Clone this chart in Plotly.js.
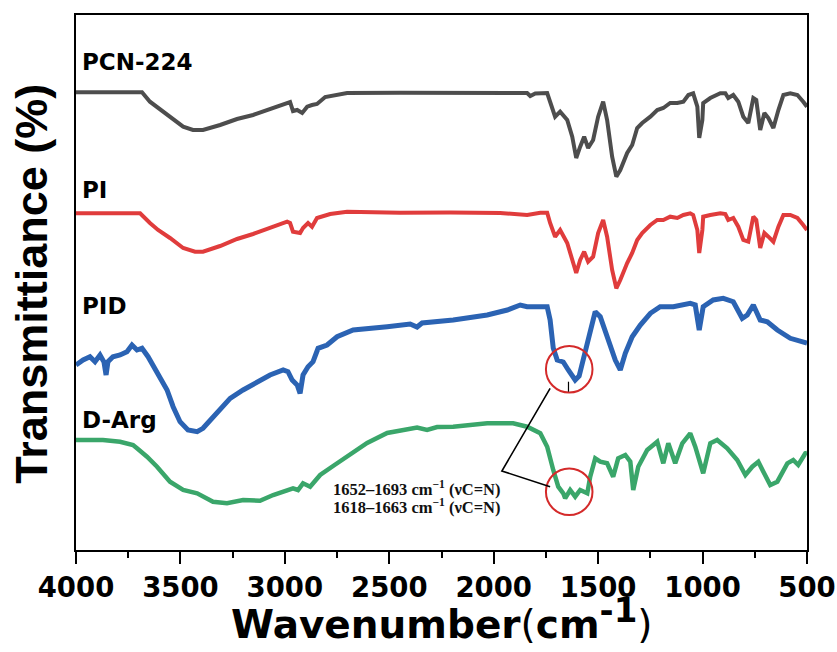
<!DOCTYPE html>
<html>
<head>
<meta charset="utf-8">
<script src="https://cdn.plot.ly/plotly-3.0.1.min.js"></script>
<style>
  html, body { margin: 0; padding: 0; background: #ffffff; }
  #chart { width: 837px; height: 652px; }
</style>
</head>
<body>
<div id="chart"></div>
<script>
// FTIR spectra, transmittance in arbitrary units (curves stacked with offsets)

const pcnWn = [4000,3684,3646,3607,3550,3487,3440,3392,3310,3229,3152,3071,2989,2975,2961,2941,2917,2893,2870,2846,2807,2759,2702,2448,2209,1969,1840,1825,1801,1744,1730,1706,1682,1648,1624,1605,1586,1567,1548,1524,1500,1476,1457,1433,1413,1394,1361,1337,1313,1289,1250,1217,1188,1155,1121,1092,1068,1045,1025,1016,1001,997,963,915,891,877,853,829,805,781,757,743,724,704,685,661,637,613,580,546,518,500];
const pcnT  = [457.7,457.7,448.3,442,433.3,423.3,420,420,425,431,435,441,448,448,439,440,437,443.3,445,446,453,455,457,457.3,457.5,457.5,457,454,456.5,457,447,433.3,438.3,430,413.3,392,403.3,413.3,402,410,433.3,448.3,430,393.3,373.3,380,397,405,422,427,433.3,440,442,447,447,448.3,455,456.7,443.3,412,430,447,452,456.7,456.7,452,455,448.3,433.3,427,452,450,420,437,432,422,440,455,456.7,455,448.3,443.3];

const piWn = [4000,3693,3646,3607,3550,3487,3430,3392,3310,3229,3152,3071,2989,2975,2961,2927,2913,2889,2870,2846,2783,2702,2448,2209,1969,1840,1777,1744,1730,1706,1682,1648,1624,1605,1586,1567,1548,1524,1500,1476,1457,1433,1413,1394,1361,1337,1313,1289,1250,1217,1188,1155,1121,1092,1059,1045,1025,1016,1001,997,963,915,891,877,853,829,805,781,757,743,724,704,685,661,637,613,580,546,518,500];
const piT  = [336.7,336.7,327,320,312,302,298.3,298.3,304,311,316,322,328.3,327,318.3,317,322,327,323.3,332,336,338.3,337.3,337.5,337,335,337.3,337.3,327,313.3,320,307,290,277,290,298.3,288.3,293.3,317,330,313.3,280,261.7,270,287,297,310,317,325,330,330,333.3,332,335,336.7,335,320,297,320,333.3,335,336.7,336,330,332,323.3,310,308.3,333.3,330,302,317,313.3,308.3,323.3,335,335,332,325,320];

const pidWn = [4000,3966,3933,3909,3885,3866,3856,3847,3823,3789,3756,3732,3708,3684,3655,3631,3598,3564,3535,3502,3464,3420,3392,3358,3310,3262,3200,3133,3071,3008,2985,2965,2941,2927,2913,2889,2865,2841,2798,2750,2673,2510,2400,2367,2343,2194,2031,1935,1873,1840,1744,1730,1715,1696,1667,1643,1610,1591,1572,1552,1538,1514,1490,1457,1418,1394,1370,1337,1298,1250,1203,1140,1059,1035,1016,997,949,901,853,810,786,757,724,690,642,580,508,500];
const pidT  = [185,190,193.3,188.3,195,188,175,188.3,193.3,195,198.3,205,200,201.7,193.3,185,173.3,160,143.3,128.3,120,118.3,121.7,130,141.7,151.7,160,168.3,175,180,178.3,170,165,156.7,175,183.3,188.3,201.7,205,213.3,220,223.3,226,223,227,230,235,240,245,243.3,243.3,230,202,190,188,180,170,174,190,210,216.7,238.3,233.3,213.3,190,180,196.7,213.3,225,236.7,243.3,243.3,246.7,245,220,243.3,250,251.7,248.3,231.7,235,245,230,228.3,220,211.7,206.7,207];

const dargWn = [4000,3871,3789,3727,3708,3660,3612,3550,3487,3420,3344,3277,3200,3119,3056,2989,2961,2937,2913,2879,2841,2831,2769,2688,2606,2510,2367,2319,2271,2194,2031,1907,1840,1777,1744,1715,1691,1667,1658,1634,1610,1586,1552,1538,1514,1490,1457,1428,1404,1370,1346,1332,1308,1265,1217,1188,1164,1131,1097,1059,1035,997,963,930,882,834,795,762,733,709,676,642,594,566,542,508,500];
const dargT  = [110,110,108.3,105,101.7,93.3,83.3,68.3,60,56.7,48.3,46.7,50,49.3,55,60,61.7,60,66.7,63.3,73.3,75,84,95,107,117,122.5,120,123,123.3,126.7,126.7,123.3,116.7,103.3,80,63.3,56.7,51.7,60,53.3,60,56.7,73.3,91.7,88.3,86.7,73.3,91.7,95,88.3,60,83.3,100,108.3,86.7,106.7,86.7,106.7,116.7,103.3,76.7,106.7,110,101.7,90,75,83.3,88.3,78.3,65,68.3,86.7,90,85,96.7,97];

const seriesNames = ['PCN-224', 'PI', 'PID', 'D-Arg'];
const bandLabels = ['1652\u20131693 cm<sup>\u22121</sup> (\u03bdC=N)', '1618\u20131663 cm<sup>\u22121</sup> (\u03bdC=N)'];
const xTicks = [4000, 3500, 3000, 2500, 2000, 1500, 1000, 500];

const colors = ['#4d4d4d', '#e03c3c', '#2b63b3', '#3aa66a'];
const widths = [4, 4, 5, 4.5];
const wnSets = [pcnWn, piWn, pidWn, dargWn];
const tSets = [pcnT, piT, pidT, dargT];

const traces = seriesNames.map((name, i) => ({
  type: 'scatter',
  mode: 'lines',
  name: name,
  x: wnSets[i],
  y: tSets[i],
  line: { color: colors[i], width: widths[i], shape: 'linear' },
  hoverinfo: 'x+y+name'
}));

const wideBold = { family: 'DejaVu Sans, Liberation Sans, sans-serif', color: '#000000', weight: 'bold' };
const arialBold = { family: 'Liberation Sans, Arial, sans-serif', color: '#000000', weight: 'bold' };

// series labels, placed in paper coordinates at the left of each curve
const labelY = [0.913, 0.673, 0.456, 0.243];
const annotations = seriesNames.map((name, i) => ({
  xref: 'paper', yref: 'paper',
  x: 0.006, y: labelY[i],
  xanchor: 'left', yanchor: 'middle',
  text: name, showarrow: false,
  font: Object.assign({}, wideBold, { size: 23 })
}));

// band assignment text
bandLabels.forEach((t, i) => {
  annotations.push({
    xref: 'paper', yref: 'paper',
    x: 0.349, y: i === 0 ? 0.115 : 0.082,
    xanchor: 'left', yanchor: 'middle',
    text: t, showarrow: false,
    font: { family: 'Liberation Serif, Times New Roman, serif', size: 16.5, color: '#111111', weight: 'bold' }
  });
});

// y-axis title
annotations.push({
  xref: 'paper', yref: 'paper',
  x: -0.062, y: 0.497,
  xanchor: 'center', yanchor: 'middle',
  textangle: -90,
  text: 'Transmittiance (%)', showarrow: false,
  font: Object.assign({}, arialBold, { size: 45 })
});

// x-axis title
annotations.push({
  xref: 'paper', yref: 'paper',
  x: 0.5, y: -0.185,
  xanchor: 'center', yanchor: 'bottom',
  text: 'Wavenumber<span style="font-weight:normal">(</span>cm<sup><span style="font-size:34px">-1</span></sup><span style="font-weight:normal">)</span>',
  showarrow: false,
  font: Object.assign({}, wideBold, { size: 39 })
});

const shapes = [
  // highlight circles around the C=N bands
  { type: 'circle', xref: 'x', yref: 'y', x0: 1750, x1: 1527, y0: 157.4, y1: 204, line: { color: '#d42a2a', width: 2 } },
  { type: 'circle', xref: 'x', yref: 'y', x0: 1750, x1: 1527, y0: 35, y1: 81.6, line: { color: '#d42a2a', width: 2 } },
  // connector from the band labels to both circles
  { type: 'path', xref: 'x', yref: 'y', path: 'M 1730,161.7 L 1961,79 L 1730,63.3', line: { color: '#000000', width: 1.6 } },
  { type: 'line', xref: 'x', yref: 'y', x0: 1642, x1: 1642, y0: 168.3, y1: 158.3, line: { color: '#000000', width: 1.2 } }
];

const layout = {
  width: 837, height: 652,
  margin: { l: 76, r: 30, t: 15, b: 102 },
  paper_bgcolor: '#ffffff', plot_bgcolor: '#ffffff',
  showlegend: false,
  xaxis: {
    range: [4000, 500], autorange: false,
    tickvals: xTicks, ticktext: xTicks.map(String),
    ticks: 'outside', ticklen: 12, tickwidth: 2, tickcolor: '#000000',
    minor: { dtick: 250, ticks: 'outside', ticklen: 6, tickwidth: 2, tickcolor: '#000000' },
    showline: true, linecolor: '#000000', linewidth: 2, mirror: true,
    showgrid: false, zeroline: false,
    tickfont: Object.assign({}, wideBold, { size: 27.5 })
  },
  yaxis: {
    range: [0, 535], autorange: false,
    showticklabels: false, ticks: '',
    showline: true, linecolor: '#000000', linewidth: 2, mirror: true,
    showgrid: false, zeroline: false
  },
  annotations: annotations,
  shapes: shapes
};

Plotly.newPlot('chart', traces, layout, { displayModeBar: false, staticPlot: true });
</script>
</body>
</html>
